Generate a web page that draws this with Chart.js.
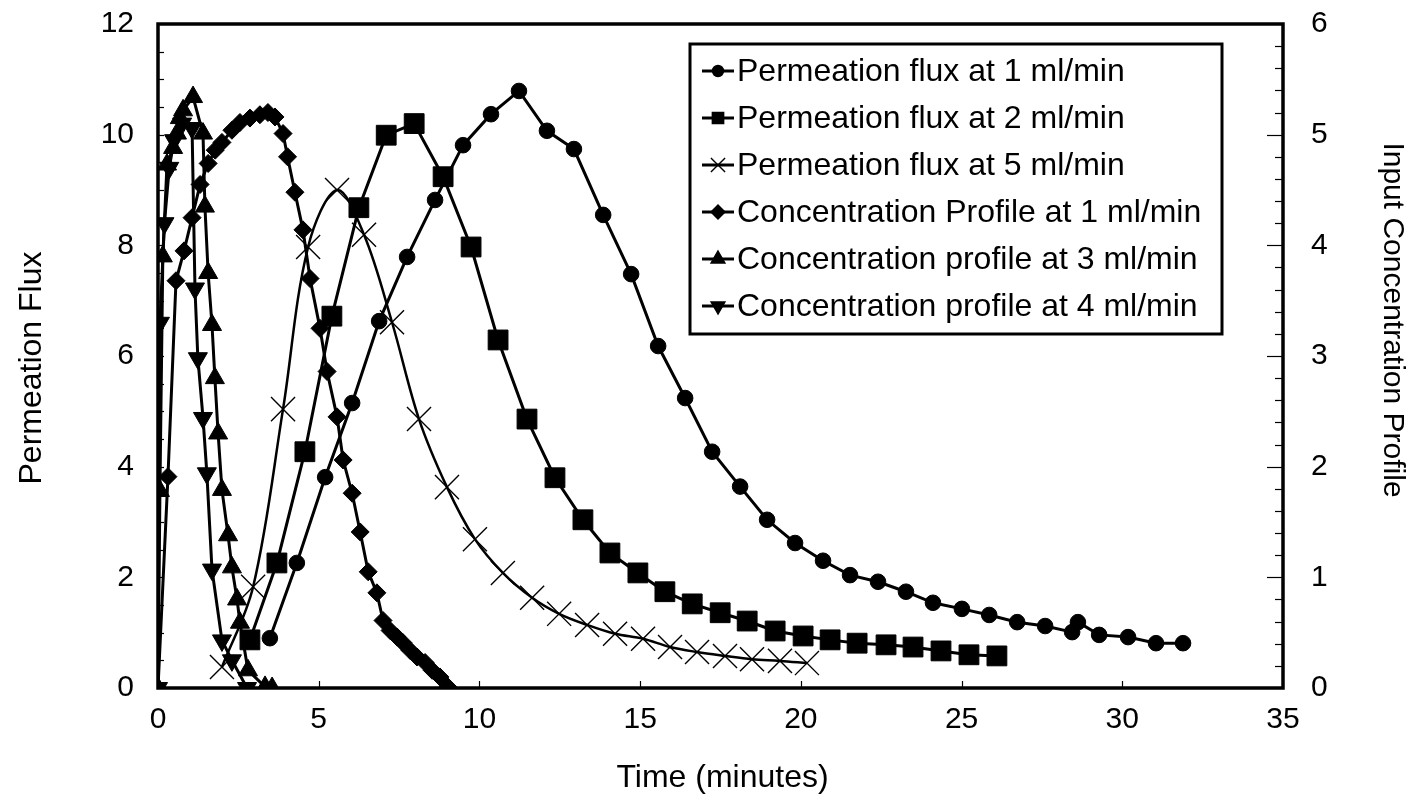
<!DOCTYPE html>
<html>
<head>
<meta charset="utf-8">
<script src="https://cdn.jsdelivr.net/npm/chart.js@4"></script>
<style>
  html, body { margin: 0; padding: 0; background: #ffffff; }
  #wrap { width: 1418px; height: 804px; }
</style>
</head>
<body>
<div id="wrap"><canvas id="chart" width="1418" height="804"></canvas></div>
<script>
// Permeation flux (left axis) and input concentration (right axis) versus time in minutes.
const flux1Time  = [3.48, 4.32, 5.20, 6.04, 6.88, 7.75, 8.62, 9.49, 10.36, 11.23, 12.10, 12.94, 13.85, 14.72, 15.56, 16.40, 17.24, 18.11, 18.95, 19.82, 20.69, 21.53, 22.40, 23.27, 24.11, 25.01, 25.86, 26.73, 27.60, 28.44, 28.62, 29.28, 30.18, 31.05, 31.89];
const flux1Value = [0.90, 2.26, 3.81, 5.15, 6.63, 7.79, 8.82, 9.81, 10.37, 10.79, 10.07, 9.74, 8.55, 7.48, 6.18, 5.24, 4.27, 3.64, 3.04, 2.62, 2.30, 2.04, 1.92, 1.74, 1.54, 1.43, 1.32, 1.19, 1.12, 1.01, 1.19, 0.96, 0.92, 0.81, 0.81];

const flux2Time  = [2.86, 3.70, 4.57, 5.41, 6.25, 7.10, 7.97, 8.87, 9.74, 10.58, 11.48, 12.35, 13.22, 14.06, 14.93, 15.77, 16.62, 17.49, 18.33, 19.20, 20.07, 20.91, 21.75, 22.65, 23.49, 24.36, 25.23, 26.10];
const flux2Value = [0.87, 2.26, 4.27, 6.72, 8.68, 9.99, 10.20, 9.24, 7.97, 6.29, 4.86, 3.80, 3.04, 2.44, 2.08, 1.74, 1.52, 1.36, 1.21, 1.03, 0.94, 0.87, 0.81, 0.78, 0.74, 0.67, 0.60, 0.58];

const flux5Time  = [1.99, 2.96, 3.89, 4.67, 5.57, 6.41, 7.28, 8.12, 8.99, 9.86, 10.73, 11.64, 12.48, 13.35, 14.22, 15.09, 15.93, 16.77, 17.64, 18.48, 19.35, 20.19];
const flux5Value = [0.38, 1.83, 5.04, 7.97, 9.00, 8.19, 6.61, 4.86, 3.63, 2.69, 2.08, 1.63, 1.34, 1.14, 0.98, 0.89, 0.74, 0.65, 0.58, 0.52, 0.49, 0.45];

const conc1Time  = [0, 0.31, 0.56, 0.81, 1.06, 1.31, 1.56, 1.78, 1.99, 2.30, 2.55, 2.86, 3.17, 3.42, 3.64, 3.89, 4.03, 4.26, 4.51, 4.73, 5.04, 5.26, 5.57, 5.76, 6.04, 6.29, 6.54, 6.81, 7.00, 7.22, 7.44, 7.62, 7.84, 8.06, 8.31, 8.53, 8.77, 9.02];
const conc1Value = [0, 1.91, 3.68, 3.95, 4.25, 4.55, 4.74, 4.86, 4.93, 5.04, 5.11, 5.15, 5.18, 5.20, 5.16, 5.01, 4.80, 4.48, 4.14, 3.70, 3.25, 2.86, 2.45, 2.06, 1.76, 1.41, 1.05, 0.86, 0.61, 0.52, 0.46, 0.41, 0.34, 0.28, 0.23, 0.16, 0.10, 0.01];

const conc3Time  = [0, 0.06, 0.15, 0.28, 0.47, 0.59, 0.68, 0.78, 1.09, 1.40, 1.46, 1.56, 1.68, 1.77, 1.87, 1.99, 2.18, 2.30, 2.46, 2.55, 2.80, 3.33, 3.55];
const conc3Value = [0, 1.78, 3.90, 4.73, 4.88, 5.01, 5.15, 5.22, 5.34, 5.01, 4.35, 3.75, 3.28, 2.80, 2.30, 1.79, 1.38, 1.09, 0.80, 0.59, 0.16, 0.01, 0];

const conc4Time  = [0, 0.06, 0.20, 0.35, 0.50, 0.75, 1.06, 1.15, 1.24, 1.40, 1.52, 1.68, 1.99, 2.30, 2.77];
const conc4Value = [0, 3.30, 4.20, 4.70, 4.95, 5.10, 5.06, 3.61, 2.98, 2.44, 1.94, 1.07, 0.43, 0.25, 0];

const seriesNames = [
  'Permeation flux at 1 ml/min',
  'Permeation flux at 2 ml/min',
  'Permeation flux at 5 ml/min',
  'Concentration Profile at 1 ml/min',
  'Concentration profile at 3 ml/min',
  'Concentration profile at 4 ml/min'
];

const xTicks = [0, 5, 10, 15, 20, 25, 30, 35];
const fluxTicks = [0, 2, 4, 6, 8, 10, 12];
const concTicks = [0, 1, 2, 3, 4, 5, 6];

const xTitle = 'Time (minutes)';
const fluxTitle = 'Permeation Flux';
const concTitle = 'Input Concentration Profile';

const pairs = (xs, ys) => xs.map((x, i) => ({ x: x, y: ys[i] }));
const FONT = "'Liberation Sans', Arial, sans-serif";
const INK = '#000000';

function makeSet(label, xs, ys, axis, style, radius, extra) {
  return Object.assign({
    label: label,
    data: pairs(xs, ys),
    yAxisID: axis,
    showLine: true,
    borderColor: INK,
    backgroundColor: INK,
    borderWidth: 3,
    pointStyle: style,
    pointRadius: radius,
    pointHoverRadius: radius,
    pointBackgroundColor: INK,
    pointBorderColor: INK,
    pointBorderWidth: 1,
    tension: 0
  }, extra || {});
}

const datasets = [
  makeSet(seriesNames[0], flux1Time, flux1Value, 'y', 'circle', 7.8),
  makeSet(seriesNames[1], flux2Time, flux2Value, 'y', 'rect', 14),
  makeSet(seriesNames[2], flux5Time, flux5Value, 'y', 'crossRot', 17,
          { borderWidth: 2.5, pointBorderWidth: 1.4, tension: 0.35 }),
  makeSet(seriesNames[3], conc1Time, conc1Value, 'y2', 'rectRot', 9),
  makeSet(seriesNames[4], conc3Time, conc3Value, 'y2', 'triangle', 11),
  makeSet(seriesNames[5], conc4Time, conc4Value, 'y2', 'triangle', 11,
          { pointRotation: 180 })
];

// Plot frame and small inward tick marks on each axis.
const framePlugin = {
  id: 'frame',
  beforeDatasetsDraw(chart) {
    const { ctx, chartArea: a, scales } = chart;
    ctx.save();
    ctx.strokeStyle = INK;
    ctx.lineWidth = 1.2;
    // right axis: minor every 0.2, major every 1
    for (let v = 0.2; v < 6; v += 0.2) {
      const y = Math.round(scales.y2.getPixelForValue(v)) + 0.5;
      const major = Math.abs(v - Math.round(v)) < 1e-6;
      ctx.beginPath();
      ctx.moveTo(a.right, y);
      ctx.lineTo(a.right - (major ? 16 : 8), y);
      ctx.stroke();
    }
    // left axis: every 0.5
    for (let v = 0.5; v < 12; v += 0.5) {
      const y = Math.round(scales.y.getPixelForValue(v)) + 0.5;
      ctx.beginPath();
      ctx.moveTo(a.left, y);
      ctx.lineTo(a.left + 6, y);
      ctx.stroke();
    }
    // bottom axis: every 5
    for (let v = 5; v < 35; v += 5) {
      const x = Math.round(scales.x.getPixelForValue(v)) + 0.5;
      ctx.beginPath();
      ctx.moveTo(x, a.bottom);
      ctx.lineTo(x, a.bottom - 7);
      ctx.stroke();
    }
    ctx.lineWidth = 3.5;
    ctx.strokeRect(a.left, a.top, a.right - a.left, a.bottom - a.top);
    ctx.restore();
  }
};

// Axis titles placed around the plot frame.
const titlePlugin = {
  id: 'axisTitles',
  afterDraw(chart) {
    const { ctx, chartArea: a } = chart;
    ctx.save();
    ctx.fillStyle = INK;
    ctx.textAlign = 'center';
    ctx.textBaseline = 'middle';
    ctx.font = '32px ' + FONT;
    ctx.fillText(xTitle, (a.left + a.right) / 2 + 2, 778);
    ctx.save();
    ctx.translate(32, 368);
    ctx.rotate(-Math.PI / 2);
    ctx.fillText(fluxTitle, 0, 0);
    ctx.restore();
    ctx.save();
    ctx.font = '30px ' + FONT;
    ctx.translate(1392, 320);
    ctx.rotate(Math.PI / 2);
    ctx.fillText(concTitle, 0, 0);
    ctx.restore();
    ctx.restore();
  }
};

// Boxed legend inside the plot area.
const legendPlugin = {
  id: 'boxLegend',
  afterDatasetsDraw(chart) {
    const { ctx } = chart;
    const box = { x: 690, y: 44, w: 532, h: 290 };
    ctx.save();
    ctx.fillStyle = '#ffffff';
    ctx.fillRect(box.x, box.y, box.w, box.h);
    ctx.strokeStyle = INK;
    ctx.lineWidth = 3;
    ctx.strokeRect(box.x, box.y, box.w, box.h);
    const legendRadius = [5.5, 8, 10, 7, 8, 8];
    chart.data.datasets.forEach((ds, i) => {
      const cy = box.y + 27 + i * 47;
      ctx.strokeStyle = INK;
      ctx.lineWidth = 3;
      ctx.beginPath();
      ctx.moveTo(box.x + 12, cy);
      ctx.lineTo(box.x + 44, cy);
      ctx.stroke();
      ctx.fillStyle = INK;
      ctx.lineWidth = 1.4;
      Chart.helpers.drawPoint(ctx, {
        pointStyle: ds.pointStyle,
        radius: legendRadius[i],
        rotation: ds.pointRotation || 0,
        borderWidth: 1
      }, box.x + 28, cy);
      ctx.fillStyle = INK;
      ctx.font = '32px ' + FONT;
      ctx.textAlign = 'left';
      ctx.textBaseline = 'middle';
      ctx.fillText(ds.label, box.x + 47, cy + 1);
    });
    ctx.restore();
  }
};

const tickFont = { family: FONT, size: 30 };

new Chart(document.getElementById('chart'), {
  type: 'scatter',
  data: { datasets: datasets },
  options: {
    responsive: false,
    animation: false,
    devicePixelRatio: 1,
    layout: { padding: { top: 24, left: 0, right: 0, bottom: 0 } },
    plugins: { legend: { display: false }, tooltip: { enabled: false } },
    scales: {
      x: {
        type: 'linear', min: 0, max: 35,
        afterBuildTicks: s => { s.ticks = xTicks.map(v => ({ value: v })); },
        afterFit: s => { s.height = 116; s.paddingLeft = 0; s.paddingRight = 0; },
        grid: { display: false },
        border: { display: false },
        ticks: { color: INK, font: tickFont, padding: 6, maxRotation: 0 }
      },
      y: {
        type: 'linear', position: 'left', min: 0, max: 12,
        afterBuildTicks: s => { s.ticks = fluxTicks.map(v => ({ value: v })); },
        afterFit: s => { s.width = 158; s.paddingTop = 0; s.paddingBottom = 0; },
        grid: { display: false },
        border: { display: false },
        ticks: { color: INK, font: tickFont, padding: 16 }
      },
      y2: {
        type: 'linear', position: 'right', min: 0, max: 6,
        afterBuildTicks: s => { s.ticks = concTicks.map(v => ({ value: v })); },
        afterFit: s => { s.width = 135; s.paddingTop = 0; s.paddingBottom = 0; },
        grid: { display: false },
        border: { display: false },
        ticks: { color: INK, font: tickFont, padding: 20 }
      }
    }
  },
  plugins: [framePlugin, legendPlugin, titlePlugin]
});
</script>
</body>
</html>
